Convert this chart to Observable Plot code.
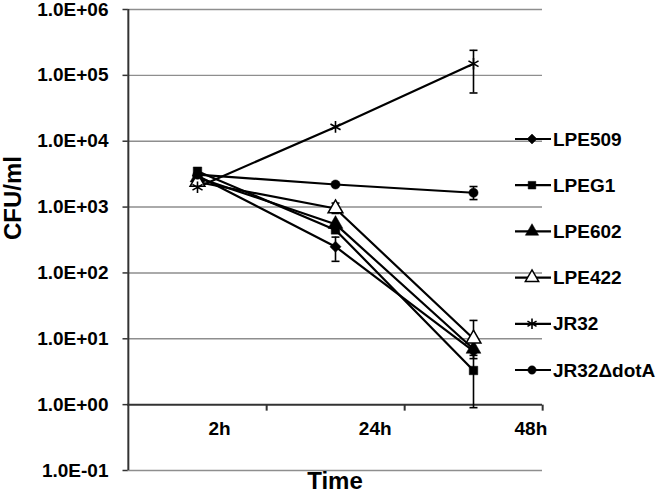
<!DOCTYPE html>
<html>
<head>
<meta charset="utf-8">
<script src="https://cdn.jsdelivr.net/npm/d3@7"></script>
<script src="https://cdn.jsdelivr.net/npm/@observablehq/plot@0.6"></script>
<style>
  html, body { margin: 0; padding: 0; background: white; }
</style>
</head>
<body>
<div id="chart"></div>
<script>
// ---- data ----
const times = ["2h", "24h", "48h"];
const series = ["LPE509", "LPEG1", "LPE602", "LPE422", "JR32", "JR32\u0394dotA"];
const yTicks = [1e-1, 1e0, 1e1, 1e2, 1e3, 1e4, 1e5, 1e6];

const LPE509 = [3000, 250, 6.5];
const LPEG1 = [3500, 450, 3.3];
const LPE602 = [2800, 550, 7];
const LPE422 = [2400, 950, 10];
const JR32 = [2000, 16500, 150000];
const JR32dotA = [3100, 2200, 1650];

// error bars: [lower, upper] per time point (null = none visible)
const LPE509_err = [null, [150, 350], null];
const LPEG1_err = [null, null, [0.9, 5.6]];
const LPE602_err = [null, null, null];
const LPE422_err = [null, [800, 1150], [5, 19]];
const JR32_err = [null, null, [54000, 240000]];
const JR32dotA_err = [null, null, [1300, 2050]];

// ---- build tables ----
const values = [LPE509, LPEG1, LPE602, LPE422, JR32, JR32dotA];
const errs = [LPE509_err, LPEG1_err, LPE602_err, LPE422_err, JR32_err, JR32dotA_err];
const symbols = ["diamond2", "square", "triangle", "triangle", "asterisk", "circle"];
const fills = ["black", "black", "black", "white", "none", "black"];
const radii = [5, 4.8, 5.5, 5.5, 5.5, 4.6];
const d3symbols = {diamond2: d3.symbolDiamond2, square: d3.symbolSquare, triangle: d3.symbolTriangle, asterisk: d3.symbolAsterisk, circle: d3.symbolCircle};

const rows = series.flatMap((s, k) => times.map((t, i) => ({series: s, time: t, value: values[k][i]})));
const errRows = series.flatMap((s, k) => times.map((t, i) => errs[k][i] ? {series: s, time: t, lo: errs[k][i][0], hi: errs[k][i][1]} : null).filter(d => d));
const capRows = errRows.flatMap(d => [{time: d.time, v: d.lo}, {time: d.time, v: d.hi}]);

const fmt = d => {
  const e = Math.round(Math.log10(d));
  return "1.0E" + (e < 0 ? "-" : "+") + String(Math.abs(e)).padStart(2, "0");
};

// ---- layout ----
const W = 666, H = 498;
const mL = 127, mR = 124, mT = 9, mB = 28;
const step = (W - mL - mR) / times.length;
const font = "'Liberation Sans', Arial, Helvetica, sans-serif";

const hline = w => ({draw(ctx) { ctx.moveTo(-w, 0); ctx.lineTo(w, 0); }});
const vline = h => ({draw(ctx) { ctx.moveTo(0, -h); ctx.lineTo(0, h); }});

const marks = [
  // gridlines
  Plot.ruleY(yTicks.filter(v => v !== 1), {stroke: "#8e8e8e", strokeWidth: 1.4}),
  // y axis line
  Plot.ruleX([times[0]], {x: d => d, dx: -step / 2, stroke: "#333", strokeWidth: 2}),
  // x axis line at 1.0E+00
  Plot.ruleY([1], {stroke: "#333", strokeWidth: 2}),
  // x ticks at category boundaries
  Plot.dot(times, {x: d => d, y: () => 1, dx: step / 2, dy: 3, symbol: vline(3), fill: "none", stroke: "#333", strokeWidth: 2}),
  // y tick marks
  Plot.dot(yTicks, {y: d => d, frameAnchor: "left", dx: -2.5, symbol: hline(2.5), fill: "none", stroke: "#333", strokeWidth: 1.5}),
  // y tick labels
  Plot.text(yTicks, {y: d => d, text: fmt, frameAnchor: "left", dx: -19, textAnchor: "end", fontSize: 19, fontWeight: "bold", fill: "black"}),
  // x tick labels
  ...times.map((t, i) => Plot.text([t], {x: d => d, y: () => 1, dy: 24, dx: 22 + i * 17.7, text: d => d, fontSize: 19, fontWeight: "bold", fill: "black"})),
  // axis titles
  Plot.text(["Time"], {frameAnchor: "bottom", dy: 18, text: d => d, fontSize: 24, fontWeight: "bold", fill: "black"}),
  Plot.text(["CFU/ml"], {frameAnchor: "left", dx: -114, rotate: -90, text: d => d, fontSize: 24, fontWeight: "bold", fill: "black"}),
  // error bars
  Plot.ruleX(errRows, {x: "time", y1: "lo", y2: "hi", stroke: "black", strokeWidth: 1.6}),
  Plot.dot(capRows, {x: "time", y: "v", symbol: hline(4), fill: "none", stroke: "black", strokeWidth: 1.6}),
  // lines
  Plot.line(rows, {x: "time", y: "value", z: "series", stroke: "black", strokeWidth: 2.2}),
  // markers
  ...series.map((s, k) => Plot.dot(rows.filter(d => d.series === s), {
    x: "time", y: "value", symbol: () => symbols[k], r: radii[k],
    fill: fills[k], stroke: "black", strokeWidth: symbols[k] === "asterisk" ? 1.6 : (fills[k] === "white" ? 1.5 : 0.5)
  }))
];

const chart = Plot.plot({
  width: W, height: H,
  marginLeft: mL, marginRight: mR, marginTop: mT, marginBottom: mB,
  x: {type: "point", domain: times, padding: 0.5, axis: null},
  y: {type: "log", domain: [0.1, 1e6], axis: null},
  symbol: {type: "identity"},
  style: {fontFamily: font, background: "white", color: "black", overflow: "visible"},
  marks
});

// ---- legend (drawn into the same svg) ----
const svg = d3.select(chart);
const lg = svg.append("g")
  .attr("font-family", font).attr("font-weight", "bold").attr("font-size", 19)
  .attr("text-anchor", "start");
series.forEach((s, k) => {
  const y = 139 + k * 46.2;
  const g = lg.append("g").attr("transform", `translate(0,${y})`);
  g.append("line").attr("x1", 515).attr("x2", 551).attr("y1", 0).attr("y2", 0).attr("stroke", "black").attr("stroke-width", 2.2);
  const r = radii[k] * 0.9;
  g.append("path")
    .attr("transform", "translate(532,0)")
    .attr("d", d3.symbol().type(d3symbols[symbols[k]]).size(Math.PI * r * r)())
    .attr("fill", fills[k])
    .attr("stroke", "black")
    .attr("stroke-width", symbols[k] === "asterisk" ? 1.6 : (fills[k] === "white" ? 1.5 : 0.5));
  g.append("text").attr("x", 553).attr("y", 0).attr("dy", "0.35em")
    .attr("text-anchor", "start").attr("fill", "black").text(s);
});

document.getElementById("chart").append(chart);
</script>
</body>
</html>
